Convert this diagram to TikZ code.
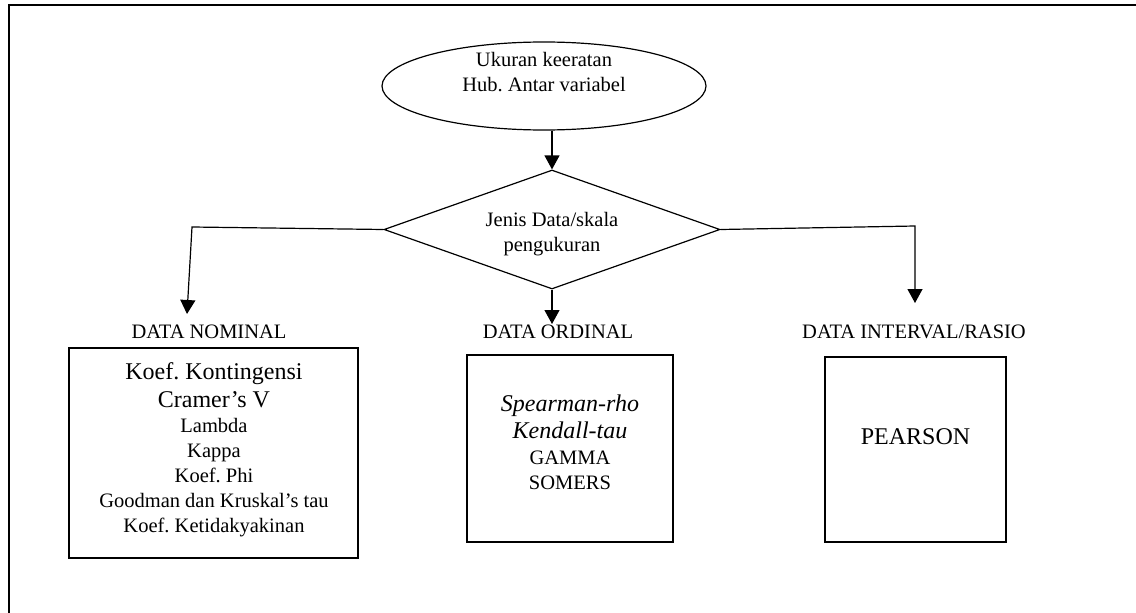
\documentclass[tikz,border=0pt]{standalone}
\usepackage{fontspec}
\setmainfont{Liberation Serif}
\usetikzlibrary{shapes.geometric,arrows.meta}
\newcommand\bigtxt{\fontsize{24}{28}\selectfont}
\frenchspacing
\begin{document}
\begin{tikzpicture}[x=1pt,y=-1pt,
  frame/.style={draw,line width=2pt},
  shapeline/.style={draw,line width=1.2pt},
  ellbox/.style={shapeline,ellipse,minimum width=324pt,minimum height=88pt,inner sep=0pt},
  diabox/.style={shapeline,diamond,minimum width=336pt,minimum height=119pt,inner sep=0pt},
  boxnode/.style={draw,line width=1.4pt,rectangle,inner sep=0pt},
  txt/.style={font=\fontsize{20.5}{25}\selectfont\frenchspacing,align=center,inner sep=0pt},
  arr/.style={line width=1.2pt,-{Triangle[length=14pt,width=15pt]}}]
\useasboundingbox (0,0) rectangle (1136,613);
\clip (0,0) rectangle (1136,613);
\draw[frame] (9.3,5.3) rectangle (1160,660);

% top ellipse
\node[ellbox] (ell) at (544,86) {};
\node[txt] (elltxt) at (544,72.2) {Ukuran keeratan\\Hub. Antar variabel};

% decision diamond
\node[diabox] (dia) at (552,229.5) {};
\node[txt] (diatxt) at (552,234) {Jenis Data/skala\\pengukuran};

\draw[arr] (ell.south -| dia.north) -- (dia.north);

% branches
\coordinate (cl) at (192,227);
\coordinate (tipL) at (187,314);
\coordinate (cr) at (915,226);
\coordinate (tipR) at (915,303);
\coordinate (tipM) at (552,324);
\draw[arr] (dia.west) -- (cl) -- (tipL);
\draw[arr] (dia.east) -- (cr) -- (tipR);
\draw[arr] (dia.south) -- (tipM);

% labels
\node[txt,anchor=base] (lnom) at (209,338) {DATA NOMINAL};
\node[txt,anchor=base] (lord) at (558,338) {DATA ORDINAL};
\node[txt,anchor=base] (lint) at (914,338) {DATA INTERVAL/RASIO};

% boxes
\node[boxnode,minimum width=289pt,minimum height=210pt] (bnom) at (213.5,453) {};
\node[boxnode,minimum width=206pt,minimum height=187pt] (bord) at (570,448.5) {};
\node[boxnode,minimum width=181pt,minimum height=185pt] (bint) at (915.5,449.5) {};

\node[txt] (tnom) at (214,450) {{\bigtxt Koef. Kontingensi}\\[3pt]{\bigtxt Cramer’s V}\\Lambda\\Kappa\\Koef. Phi\\Goodman dan Kruskal’s tau\\Koef. Ketidakyakinan};
\node[txt] (tord) at (570,442.3) {{\bigtxt\itshape Spearman-rho}\\[2pt]{\bigtxt\itshape Kendall-tau}\\[1pt]GAMMA\\SOMERS};
\node[txt,font=\bigtxt] (tint) at (915.5,437) {PEARSON};
\end{tikzpicture}
\end{document}
